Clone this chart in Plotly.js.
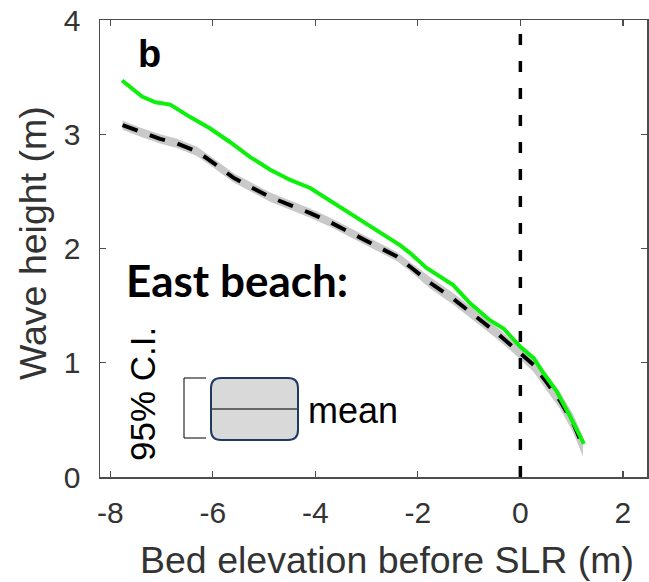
<!DOCTYPE html>
<html>
<head>
<meta charset="utf-8">
<script src="https://cdn.plot.ly/plotly-3.0.1.min.js"></script>
<style>
  html, body { margin: 0; padding: 0; background: #fff; }
  #chart { width: 649px; height: 582px; }
</style>
</head>
<body>
<div id="chart"></div>
<script>
// Bed elevation (m) vs. wave height (m), East beach
const meanX = [-7.76, -7.42, -7.03, -6.70, -6.31, -5.99, -5.60, -5.27, -4.88, -4.49, -4.10, -3.71, -3.32, -2.90, -2.41, -2.15, -1.76, -1.31, -0.85, -0.46, -0.07, 0.26, 0.51, 0.77, 1.03, 1.22];
const meanY = [3.08, 3.02, 2.96, 2.92, 2.85, 2.75, 2.62, 2.54, 2.45, 2.38, 2.31, 2.23, 2.14, 2.04, 1.93, 1.84, 1.70, 1.56, 1.40, 1.26, 1.11, 0.98, 0.83, 0.67, 0.47, 0.27];
const ciHigh = [3.12, 3.06, 3.00, 2.96, 2.89, 2.79, 2.66, 2.58, 2.49, 2.42, 2.35, 2.27, 2.18, 2.08, 1.97, 1.88, 1.75, 1.61, 1.45, 1.31, 1.16, 1.04, 0.90, 0.74, 0.55, 0.35];
const ciLow  = [3.04, 2.98, 2.92, 2.88, 2.81, 2.71, 2.58, 2.50, 2.41, 2.34, 2.27, 2.19, 2.10, 2.00, 1.89, 1.80, 1.65, 1.51, 1.35, 1.21, 1.06, 0.92, 0.76, 0.60, 0.39, 0.18];

const greenX = [-7.77, -7.38, -7.12, -6.83, -6.44, -6.05, -5.66, -5.27, -4.88, -4.49, -4.10, -3.71, -3.32, -2.87, -2.35, -2.15, -1.83, -1.31, -0.98, -0.59, -0.33, 0.00, 0.26, 0.45, 0.71, 0.97, 1.24];
const greenY = [3.47, 3.33, 3.28, 3.26, 3.15, 3.05, 2.93, 2.80, 2.69, 2.60, 2.53, 2.42, 2.31, 2.18, 2.03, 1.96, 1.83, 1.68, 1.52, 1.37, 1.30, 1.14, 1.04, 0.91, 0.75, 0.53, 0.29];

const xTicks = [-8, -6, -4, -2, 0, 2];
const yTicks = [0, 1, 2, 3, 4];

const FONT = 'Liberation Sans, Arial, sans-serif';
const INK = '#333333';

const traces = [
  { x: meanX, y: ciLow, mode: 'lines', line: { width: 0, color: 'rgba(0,0,0,0)' },
    hoverinfo: 'skip', showlegend: false },
  { x: meanX, y: ciHigh, mode: 'lines', fill: 'tonexty', fillcolor: '#c9c9c9',
    line: { width: 0, color: 'rgba(0,0,0,0)' }, hoverinfo: 'skip', showlegend: false },
  { x: meanX, y: meanY, mode: 'lines', line: { color: '#000000', width: 4, dash: '16px,13px' },
    showlegend: false },
  { x: greenX, y: greenY, mode: 'lines', line: { color: '#0cf00c', width: 4 },
    showlegend: false }
];

// inset key, placed in plot-area (paper) coordinates
const W = 547, H = 457;           // plot area size in px
const px = v => (v - 100) / W;    // page x -> paper
const py = v => (477 - v) / H;    // page y -> paper
function roundRect(x0, y0, x1, y1, r) {
  const rx = r / W, ry = r / H;
  const a = px(x0), b = px(x1), t = py(y0), u = py(y1);
  return `M ${a + rx},${t} L ${b - rx},${t} Q ${b},${t} ${b},${t - ry} ` +
         `L ${b},${u + ry} Q ${b},${u} ${b - rx},${u} L ${a + rx},${u} ` +
         `Q ${a},${u} ${a},${u + ry} L ${a},${t - ry} Q ${a},${t} ${a + rx},${t} Z`;
}

const shapes = [
  { type: 'line', xref: 'x', yref: 'paper', x0: 0, x1: 0, y0: 0, y1: 1,
    line: { color: '#000000', width: 3.5, dash: '11px,16px' } },
  { type: 'path', xref: 'paper', yref: 'paper', path: roundRect(211, 378, 298, 440, 10),
    fillcolor: '#d9d9d9', line: { color: '#1f3864', width: 2 } },
  { type: 'line', xref: 'paper', yref: 'paper', x0: px(211), x1: px(298), y0: py(409), y1: py(409),
    line: { color: '#404040', width: 1.5 } },
  { type: 'path', xref: 'paper', yref: 'paper',
    path: `M ${px(206)},${py(378)} L ${px(184)},${py(378)} L ${px(184)},${py(438)} L ${px(206)},${py(438)}`,
    line: { color: '#000000', width: 1 } }
];

function label(text, x, y, size, extra) {
  return Object.assign({ text: text, xref: 'paper', yref: 'paper', x: px(x), y: py(y),
    xanchor: 'center', yanchor: 'middle', showarrow: false,
    font: { family: FONT, size: size, color: '#000' } }, extra || {});
}

const annotations = [
  label('<b>b</b>', 149, 54, 38),
  label('<b>East beach:</b>', 237, 280, 44, { font: { family: 'Lato, Carlito, sans-serif', size: 44, color: '#000' } }),
  label('95% C.I.', 142, 394, 35, { textangle: -90 }),
  label('mean', 353, 410, 36),
  label('Bed elevation before SLR (m)', 387, 560, 37.5, { font: { family: FONT, size: 37.5, color: INK } }),
  label('Wave height (m)', 33, 243, 37.5, { textangle: -90, font: { family: FONT, size: 37.5, color: INK } })
];

const axisCommon = {
  showgrid: false, zeroline: false, showline: true, linecolor: '#4d4d4d', linewidth: 1.5,
  mirror: 'ticks', ticks: 'inside', ticklen: 6, tickwidth: 1.2, tickcolor: '#4d4d4d',
  tickfont: { family: FONT, size: 30, color: INK }, fixedrange: true
};

const layout = {
  width: 649, height: 582,
  margin: { l: 100, r: 2, t: 20, b: 105, pad: 0 },
  paper_bgcolor: '#ffffff', plot_bgcolor: '#ffffff',
  showlegend: false,
  xaxis: Object.assign({}, axisCommon, { range: [-8.2, 2.47], tickvals: xTicks,
    ticktext: xTicks.map(String), ticklabelstandoff: 8 }),
  yaxis: Object.assign({}, axisCommon, { range: [0, 4], tickvals: yTicks,
    ticktext: yTicks.map(String), ticklabelstandoff: 12 }),
  shapes: shapes,
  annotations: annotations
};

Plotly.newPlot('chart', traces, layout, { displayModeBar: false, staticPlot: true });
</script>
</body>
</html>
